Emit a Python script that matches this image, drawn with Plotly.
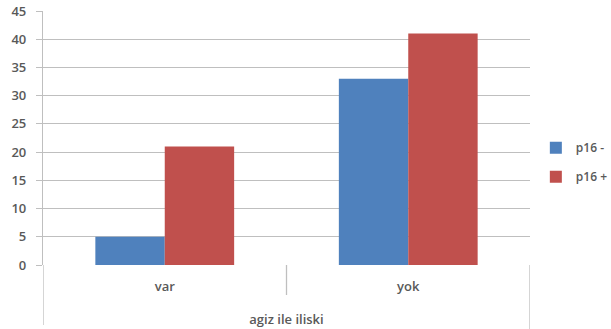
import plotly.graph_objects as go

# Categories and series values
categories = ["var", "yok"]
p16_minus = [5, 33]
p16_plus = [21, 41]
series_names = ["p16 -", "p16 +"]
y_ticks = [0, 5, 10, 15, 20, 25, 30, 35, 40, 45]

BLUE = "#4F81BD"
RED = "#C0504D"
GRID = "#BFBFBF"
TEXT = "#595959"
FONT = "Open Sans"

fig = go.Figure()
fig.add_trace(go.Bar(x=categories, y=p16_minus, name=series_names[0],
                     marker=dict(color=BLUE, line=dict(width=0)),
                     legendgroup="a"))
fig.add_trace(go.Bar(x=categories, y=p16_plus, name=series_names[1],
                     marker=dict(color=RED, line=dict(width=0)),
                     legendgroup="b"))

# Category divider and frame lines below the plot area
shapes = []
for xv, ylen in [(-0.5, -60 / 254), (0.5, -30 / 254), (1.5, -64 / 254)]:
    shapes.append(dict(type="line", xref="x", yref="paper",
                       x0=xv, x1=xv, y0=0, y1=ylen,
                       line=dict(color=GRID, width=1.3)))

tick_font = dict(size=13, color=TEXT, family=FONT, weight=600)

fig.update_layout(
    width=611, height=329,
    margin=dict(l=43, r=81, t=11, b=64, autoexpand=False),
    paper_bgcolor="white", plot_bgcolor="white",
    barmode="group", bargap=0.43, bargroupgap=0,
    font=dict(family=FONT, color=TEXT, size=12),
    shapes=shapes,
    legend=dict(xref="container", x=0.877, xanchor="left",
                y=0.405, yanchor="middle",
                font=dict(size=12, color=TEXT, family=FONT, weight=600),
                traceorder="grouped", tracegroupgap=10,
                itemwidth=30, bgcolor="rgba(0,0,0,0)"),
    xaxis=dict(range=[-0.5, 1.5], showgrid=False, zeroline=False,
               showline=False, ticks="", ticklabelstandoff=12,
               automargin=False, tickfont=tick_font,
               title=dict(text="agiz ile iliski", standoff=20,
                          font=dict(size=13, color=TEXT, family=FONT, weight=600))),
    yaxis=dict(range=[0, 45], tickvals=y_ticks, showgrid=True,
               gridcolor=GRID, gridwidth=1.3, zeroline=False,
               showline=True, linecolor=GRID, linewidth=1.3,
               ticks="outside", ticklen=6, tickcolor=GRID, tickwidth=1.3,
               ticklabelstandoff=7, automargin=False,
               tickfont=tick_font),
)

fig.write_html("out.html")
